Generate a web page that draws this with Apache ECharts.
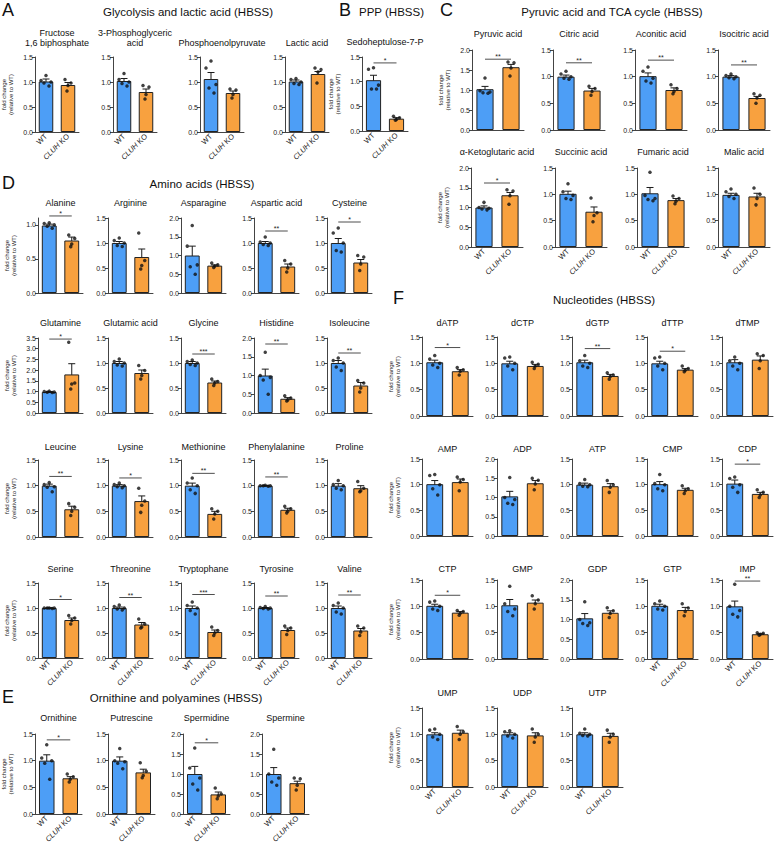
<!DOCTYPE html>
<html>
<head>
<meta charset="utf-8">
<script src="https://cdn.jsdelivr.net/npm/echarts@6/dist/echarts.min.js"></script>
<style>
  html, body { margin: 0; padding: 0; background: #fff; }
  #chart { width: 776px; height: 846px; }
</style>
</head>
<body>
<div id="chart"></div>
<script>
// groups on every small panel
const groups = ['WT', 'CLUH KO']

// panel names, in reading order (A, B, C, D, E, F)
const names = [
  'Fructose\n1,6 biphosphate', '3-Phosphoglyceric\nacid', 'Phosphoenolpyruvate', 'Lactic acid',
  'Sedoheptulose-7-P',
  'Pyruvic acid', 'Citric acid', 'Aconitic acid', 'Isocitric acid',
  'α-Ketoglutaric acid', 'Succinic acid', 'Fumaric acid', 'Malic acid',
  'Alanine', 'Arginine', 'Asparagine', 'Aspartic acid', 'Cysteine',
  'Glutamine', 'Glutamic acid', 'Glycine', 'Histidine', 'Isoleucine',
  'Leucine', 'Lysine', 'Methionine', 'Phenylalanine', 'Proline',
  'Serine', 'Threonine', 'Tryptophane', 'Tyrosine', 'Valine',
  'Ornithine', 'Putrescine', 'Spermidine', 'Spermine',
  'dATP', 'dCTP', 'dGTP', 'dTTP', 'dTMP',
  'AMP', 'ADP', 'ATP', 'CMP', 'CDP',
  'CTP', 'GMP', 'GDP', 'GTP', 'IMP',
  'UMP', 'UDP', 'UTP'
]

// y axis top for each panel
const yMax = [
  1.5, 1.5, 1.5, 1.5,
  1.5,
  2, 1.5, 1.5, 1.5,
  2, 1.5, 1.5, 1.5,
  1.1, 1.5, 2, 1.5, 1.5,
  3.5, 1.5, 1.5, 2, 1.5,
  1.5, 1.5, 1.5, 1.5, 1.5,
  1.5, 1.5, 1.5, 1.5, 1.5,
  1.5, 1.5, 2, 2,
  1.5, 1.5, 1.5, 1.5, 1.5,
  1.5, 2, 1.5, 1.5, 1.5,
  1.5, 1.5, 2, 1.5, 1.5,
  1.5, 1.5, 1.5
]

// WT mean / SEM
const wtMean = [
  1.01, 1.02, 1.06, 1.01,
  1.03,
  1.02, 1.0, 1.01, 1.0,
  1.0, 1.01, 1.02, 0.99,
  0.99, 1.0, 1.0, 1.0, 1.0,
  0.98, 1.0, 1.0, 1.0, 1.0,
  1.0, 1.0, 1.0, 1.0, 1.0,
  1.0, 1.0, 1.0, 1.0, 1.0,
  1.0, 1.0, 1.0, 1.0,
  1.02, 1.0, 1.02, 1.0, 1.02,
  1.01, 1.03, 1.0, 1.01, 1.02,
  1.01, 1.02, 1.03, 1.01, 1.0,
  1.0, 1.0, 1.0
]
const wtSem = [
  0.05, 0.05, 0.13, 0.03,
  0.1,
  0.07, 0.03, 0.06, 0.02,
  0.04, 0.05, 0.11, 0.03,
  0.02, 0.03, 0.25, 0.03, 0.09,
  0.02, 0.03, 0.03, 0.17, 0.05,
  0.03, 0.02, 0.05, 0.005, 0.04,
  0.005, 0.02, 0.04, 0.01, 0.04,
  0.11, 0.07, 0.19, 0.16,
  0.04, 0.04, 0.04, 0.04, 0.05,
  0.07, 0.13, 0.03, 0.05, 0.07,
  0.03, 0.11, 0.12, 0.03, 0.1,
  0.03, 0.03, 0.03
]

// CLUH KO mean / SEM
const koMean = [
  0.94, 0.8, 0.78, 1.16,
  0.25,
  1.57, 0.74, 0.75, 0.6,
  1.31, 0.67, 0.89, 0.96,
  0.77, 0.72, 0.73, 0.53, 0.61,
  1.8, 0.8, 0.61, 0.38, 0.55,
  0.54, 0.7, 0.45, 0.53, 0.95,
  0.76, 0.67, 0.52, 0.56, 0.55,
  0.67, 0.78, 0.49, 0.77,
  0.85, 0.95, 0.76, 0.88, 1.07,
  1.05, 1.37, 0.97, 0.9, 0.82,
  0.88, 1.07, 1.17, 0.93, 0.47,
  1.03, 0.98, 0.97
]
const koSem = [
  0.05, 0.06, 0.04, 0.05,
  0.02,
  0.07, 0.04, 0.04, 0.03,
  0.07, 0.09, 0.03, 0.06,
  0.05, 0.16, 0.02, 0.05, 0.06,
  0.5, 0.06, 0.03, 0.03, 0.06,
  0.06, 0.1, 0.05, 0.03, 0.05,
  0.04, 0.04, 0.04, 0.04, 0.04,
  0.03, 0.06, 0.06, 0.05,
  0.03, 0.03, 0.03, 0.02, 0.07,
  0.06, 0.07, 0.05, 0.03, 0.03,
  0.02, 0.05, 0.05, 0.05, 0.01,
  0.05, 0.05, 0.05
]

// single replicates
const wtDots = [
  [1.13, 1.03, 1.0, 0.98, 0.92], [1.17, 1.05, 1.0, 0.97, 0.92], [1.42, 1.28, 0.95, 0.88, 0.78], [1.07, 1.05, 1.0, 0.97, 0.95],
  [1.28, 1.25, 0.93, 0.85, 0.85],
  [1.3, 0.98, 0.95, 0.93, 0.92], [1.1, 1.05, 1.0, 0.97, 0.95], [1.18, 1.1, 0.97, 0.92, 0.88], [1.05, 1.02, 1.0, 0.98, 0.96],
  [1.13, 1.0, 0.98, 0.96, 0.94], [1.2, 1.05, 0.98, 0.92, 0.9], [1.42, 0.98, 0.92, 0.9, 0.88], [1.1, 1.05, 1.0, 0.96, 0.92],
  [1.03, 1.02, 1.0, 0.98, 0.95], [1.1, 1.05, 1.0, 0.95, 0.93], [1.8, 1.25, 0.75, 0.7, 0.5], [1.12, 1.02, 1.0, 0.97, 0.95], [1.3, 1.2, 1.0, 0.85, 0.82],
  [1.02, 1.0, 0.98, 0.97, 0.96], [1.08, 1.03, 1.0, 0.96, 0.94], [1.06, 1.03, 1.0, 0.97, 0.95], [1.62, 1.0, 0.95, 0.88, 0.5], [1.1, 1.05, 1.0, 0.92, 0.85],
  [1.06, 1.02, 0.98, 0.97, 0.88], [1.05, 1.02, 1.0, 0.98, 0.96], [1.15, 1.05, 1.0, 0.92, 0.85], [1.01, 1.0, 1.0, 1.0, 0.99], [1.1, 1.02, 1.0, 0.95, 0.92],
  [1.0, 1.0, 1.0, 1.0, 0.99], [1.06, 1.03, 1.0, 0.98, 0.96], [1.12, 1.05, 1.0, 0.95, 0.88], [1.03, 1.01, 1.0, 0.99, 0.98], [1.1, 1.05, 1.0, 0.92, 0.88],
  [1.3, 1.05, 1.0, 0.95, 0.65], [1.23, 1.0, 0.98, 0.95, 0.85], [1.65, 1.15, 0.9, 0.75, 0.6], [1.62, 1.0, 0.9, 0.8, 0.72],
  [1.15, 1.08, 1.0, 0.97, 0.92], [1.12, 1.1, 1.0, 0.95, 0.88], [1.15, 1.05, 1.0, 0.95, 0.92], [1.12, 1.1, 1.0, 0.95, 0.88], [1.12, 1.05, 1.0, 0.95, 0.88],
  [1.2, 1.18, 1.0, 0.92, 0.8], [1.52, 1.0, 0.95, 0.85, 0.82], [1.1, 1.02, 1.0, 0.97, 0.96], [1.2, 1.02, 1.0, 0.92, 0.88], [1.15, 1.12, 1.0, 0.95, 0.85],
  [1.1, 1.08, 1.0, 0.95, 0.92], [1.38, 1.05, 0.95, 0.9, 0.82], [1.45, 1.0, 0.92, 0.9, 0.85], [1.1, 1.05, 1.0, 0.95, 0.93], [1.42, 1.0, 0.92, 0.85, 0.8],
  [1.1, 1.08, 1.0, 0.95, 0.9], [1.07, 1.05, 1.0, 0.97, 0.93], [1.1, 1.02, 1.0, 0.98, 0.97]
]
const koDots = [
  [1.05, 0.98, 0.93, 0.82], [0.93, 0.9, 0.75, 0.66], [0.86, 0.84, 0.75, 0.68], [1.28, 1.25, 1.2, 0.98],
  [0.3, 0.27, 0.24, 0.22],
  [1.7, 1.68, 1.55, 1.35], [0.82, 0.78, 0.72, 0.65], [0.85, 0.78, 0.72, 0.68], [0.68, 0.65, 0.6, 0.5],
  [1.45, 1.42, 1.3, 1.08], [0.93, 0.65, 0.6, 0.48], [0.97, 0.92, 0.87, 0.82], [1.12, 1.0, 0.92, 0.8],
  [0.85, 0.8, 0.72, 0.68], [1.2, 0.65, 0.55, 0.48], [0.8, 0.75, 0.72, 0.68], [0.65, 0.58, 0.5, 0.42], [0.75, 0.72, 0.58, 0.45],
  [3.3, 1.4, 1.35, 1.12], [0.95, 0.85, 0.75, 0.68], [0.68, 0.63, 0.6, 0.55], [0.46, 0.4, 0.35, 0.32], [0.65, 0.6, 0.5, 0.42],
  [0.65, 0.58, 0.5, 0.42], [0.95, 0.7, 0.62, 0.48], [0.55, 0.5, 0.45, 0.35], [0.6, 0.55, 0.5, 0.47], [1.08, 0.95, 0.9, 0.88],
  [0.85, 0.8, 0.75, 0.68], [0.78, 0.68, 0.62, 0.6], [0.62, 0.55, 0.5, 0.45], [0.64, 0.6, 0.55, 0.47], [0.64, 0.6, 0.52, 0.45],
  [0.75, 0.7, 0.65, 0.6], [0.96, 0.8, 0.72, 0.68], [0.65, 0.5, 0.45, 0.38], [0.9, 0.88, 0.72, 0.6],
  [0.92, 0.88, 0.85, 0.78], [1.02, 0.98, 0.95, 0.9], [0.82, 0.78, 0.75, 0.7], [0.95, 0.9, 0.87, 0.84], [1.18, 1.15, 1.05, 0.9],
  [1.15, 1.1, 1.05, 0.88], [1.5, 1.45, 1.35, 1.2], [1.08, 1.0, 0.95, 0.85], [0.98, 0.92, 0.88, 0.83], [0.9, 0.85, 0.8, 0.75],
  [0.92, 0.9, 0.87, 0.83], [1.2, 1.12, 1.05, 0.95], [1.3, 1.22, 1.15, 1.05], [1.05, 0.97, 0.9, 0.82], [0.5, 0.49, 0.47, 0.45],
  [1.15, 1.05, 1.0, 0.9], [1.1, 1.0, 0.95, 0.85], [1.08, 1.0, 0.95, 0.85]
]

// significance stars and the height of their bracket ('' = none)
const sigText = [
  '', '', '', '',
  '*',
  '**', '**', '**', '**',
  '*', '', '', '',
  '*', '', '', '**', '*',
  '*', '', '***', '**', '**',
  '**', '*', '**', '**', '',
  '*', '**', '***', '**', '**',
  '*', '', '*', '',
  '*', '', '**', '*', '',
  '', '', '', '', '*',
  '*', '', '', '', '**',
  '', '', ''
]
const sigY = [
  0, 0, 0, 0,
  1.38,
  1.77, 1.26, 1.31, 1.22,
  1.62, 0, 0, 0,
  1.13, 0, 0, 1.24, 1.42,
  3.45, 0, 1.18, 1.84, 1.2,
  1.18, 1.15, 1.24, 1.17, 0,
  1.17, 1.21, 1.27, 1.24, 1.26,
  1.39, 0, 1.78, 0,
  1.3, 0, 1.28, 1.23, 0,
  0, 0, 0, 0, 1.4,
  1.21, 0, 0, 0, 1.48,
  0, 0, 0
]

const FONT = "'Liberation Sans', Arial, Helvetica, sans-serif"
const BLUE = '#4d9ef6'
const ORANGE = '#f8a13f'
const AXIS = '#444'

// 每一行小图的位置
const dLefts = [38, 108, 181, 254, 327]
const fLefts = [422, 497, 572, 647, 722]
const rows = [
  { top: 57, bottom: 132, lefts: [35, 113, 200, 285], w: 44, titleY: 43, xl: [1, 1, 1, 1] },
  { top: 57, bottom: 131, lefts: [362], w: 46, titleY: 42, xl: [1] },
  { top: 50, bottom: 130, lefts: [472, 553, 635, 718], w: 52, titleY: 34, xl: [0, 0, 0, 0] },
  { top: 168, bottom: 247, lefts: [471, 555, 637, 718], w: 52, titleY: 152, xl: [1, 1, 1, 1] },
  { top: 218, bottom: 293, lefts: dLefts, w: 45, titleY: 203, xl: [0, 0, 0, 0, 0] },
  { top: 338, bottom: 413, lefts: dLefts, w: 45, titleY: 323, xl: [0, 0, 0, 0, 0] },
  { top: 460, bottom: 537, lefts: dLefts, w: 45, titleY: 447, xl: [0, 0, 0, 0, 0] },
  { top: 583, bottom: 658, lefts: dLefts, w: 45, titleY: 569, xl: [1, 1, 1, 1, 1] },
  { top: 734, bottom: 814, lefts: [35, 108, 183, 262], w: 47, titleY: 718, xl: [1, 1, 1, 1] },
  { top: 337, bottom: 416, lefts: fLefts, w: 51, titleY: 323, xl: [0, 0, 0, 0, 0] },
  { top: 459, bottom: 536, lefts: fLefts, w: 51, titleY: 449, xl: [0, 0, 0, 0, 0] },
  { top: 580, bottom: 659, lefts: fLefts, w: 51, titleY: 569, xl: [0, 0, 0, 1, 1] },
  { top: 708, bottom: 787, lefts: [422, 497, 572], w: 51, titleY: 693, xl: [1, 1, 1] }
]

// 点的水平抖动（像素）
const wtOff = [0, -5, 5, -2, 3]
const koOff = [-3, 3, 0, -1]

const grids = []
const xAxes = []
const yAxes = []
const series = []
const graphics = []

const txt = (text, x, y, size, align, extra) => ({
  type: 'text',
  x: x,
  y: y,
  silent: true,
  style: Object.assign({
    text: text,
    fontSize: size,
    fontFamily: FONT,
    fill: '#111',
    align: align,
    verticalAlign: 'middle'
  }, extra || {})
})

// 误差线
const renderErr = (params, api) => {
  const c = api.value(0)
  const m = api.value(1)
  const s = api.value(2)
  const a = api.coord([c, m + s])
  const b = api.coord([c, m - s])
  const st = { stroke: '#1a1a1a', lineWidth: 1 }
  return {
    type: 'group',
    children: [
      { type: 'line', shape: { x1: a[0], y1: a[1], x2: b[0], y2: b[1] }, style: st },
      { type: 'line', shape: { x1: a[0] - 3.5, y1: a[1], x2: a[0] + 3.5, y2: a[1] }, style: st },
      { type: 'line', shape: { x1: b[0] - 3.5, y1: b[1], x2: b[0] + 3.5, y2: b[1] }, style: st }
    ]
  }
}

// 显著性标记
const makeSig = (label) => (params, api) => {
  const y = api.value(1)
  const a = api.coord([0, y])
  const b = api.coord([1, y])
  return {
    type: 'group',
    children: [
      { type: 'line', shape: { x1: a[0], y1: a[1], x2: b[0], y2: b[1] }, style: { stroke: '#222', lineWidth: 0.8 } },
      {
        type: 'text',
        x: (a[0] + b[0]) / 2,
        y: a[1] + 1,
        style: { text: label, fontSize: 7, fontFamily: FONT, fill: '#222', align: 'center', verticalAlign: 'bottom' }
      }
    ]
  }
}

let idx = 0
rows.forEach((row) => {
  row.lefts.forEach((left, col) => {
    const i = idx++
    const ticks = []
    for (let t = 0; t <= yMax[i] + 1e-9; t += 0.5) ticks.push(+t.toFixed(1))

    grids.push({
      left: left,
      top: row.top,
      width: row.w,
      height: row.bottom - row.top,
      containLabel: false,
      outerBoundsMode: 'none'
    })
    xAxes.push({
      type: 'category',
      gridIndex: i,
      data: groups,
      axisLine: { lineStyle: { color: AXIS, width: 1 } },
      axisTick: { alignWithLabel: true, length: 3, lineStyle: { color: AXIS } },
      axisLabel: {
        show: !!row.xl[col],
        rotate: 45,
        interval: 0,
        margin: 3,
        fontSize: 7.5,
        fontFamily: FONT,
        color: '#222',
        formatter: (v) => (v === 'CLUH KO' ? '{i|CLUH} KO' : v),
        rich: { i: { fontStyle: 'italic', fontSize: 7.5, fontFamily: FONT, color: '#222' } }
      }
    })
    yAxes.push({
      type: 'value',
      gridIndex: i,
      min: 0,
      max: yMax[i],
      interval: 0.5,
      name: col === 0 ? 'fold change\n(relative to WT)' : '',
      nameLocation: 'middle',
      nameGap: 21,
      nameTextStyle: { fontSize: 6, lineHeight: 7, fontFamily: FONT, color: '#222' },
      axisLine: { show: true, lineStyle: { color: AXIS, width: 1 } },
      axisTick: { show: true, length: 3, lineStyle: { color: AXIS }, customValues: ticks },
      axisLabel: {
        fontSize: 7,
        margin: 2,
        fontFamily: FONT,
        color: '#222',
        customValues: ticks,
        formatter: (v) => v.toFixed(1)
      },
      splitLine: { show: false }
    })

    series.push({
      type: 'bar',
      xAxisIndex: i,
      yAxisIndex: i,
      barWidth: '66%',
      itemStyle: { borderColor: '#222', borderWidth: 1 },
      data: [
        { value: wtMean[i], itemStyle: { color: BLUE } },
        { value: koMean[i], itemStyle: { color: ORANGE } }
      ]
    })
    series.push({
      type: 'custom',
      xAxisIndex: i,
      yAxisIndex: i,
      renderItem: renderErr,
      encode: { x: 0, y: 1 },
      data: [[0, wtMean[i], wtSem[i]], [1, koMean[i], koSem[i]]]
    })
    series.push({
      type: 'scatter',
      xAxisIndex: i,
      yAxisIndex: i,
      symbolSize: 3.5,
      itemStyle: { color: '#111' },
      data: wtDots[i].map((v, k) => ({ value: [0, v], symbolOffset: [wtOff[k % 5], 0] }))
        .concat(koDots[i].map((v, k) => ({ value: [1, v], symbolOffset: [koOff[k % 4], 0] })))
    })
    if (sigText[i]) {
      series.push({
        type: 'custom',
        xAxisIndex: i,
        yAxisIndex: i,
        clip: false,
        renderItem: makeSig(sigText[i]),
        encode: { x: 0, y: 1 },
        data: [[0, sigY[i]]]
      })
    }

    // 小图标题
    const lines = names[i].split('\n')
    lines.forEach((ln, k) => {
      graphics.push(txt(ln, left + row.w / 2, row.titleY - (lines.length - 1 - k) * 10, 9, 'center'))
    })
  })
})

// 大标题和字母
graphics.push(txt('A', 2, 10, 18, 'left'))
graphics.push(txt('Glycolysis and lactic acid (HBSS)', 188, 12, 11.5, 'center'))
graphics.push(txt('B', 339, 10, 18, 'left'))
graphics.push(txt('PPP (HBSS)', 359, 12, 11.5, 'left'))
graphics.push(txt('C', 440, 10, 18, 'left'))
graphics.push(txt('Pyruvic acid and TCA cycle (HBSS)', 612, 12, 11.5, 'center'))
graphics.push(txt('D', 2, 183, 18, 'left'))
graphics.push(txt('Amino acids (HBSS)', 202, 184, 11.5, 'center'))
graphics.push(txt('E', 2, 697, 18, 'left'))
graphics.push(txt('Ornithine and polyamines (HBSS)', 176, 698, 11.5, 'center'))
graphics.push(txt('F', 393, 298, 18, 'left'))
graphics.push(txt('Nucleotides (HBSS)', 604, 300, 11.5, 'center'))

const chart = echarts.init(document.getElementById('chart'), null, { renderer: 'svg' })
chart.setOption({
  animation: false,
  backgroundColor: '#fff',
  grid: grids,
  xAxis: xAxes,
  yAxis: yAxes,
  series: series,
  graphic: graphics
})
</script>
</body>
</html>
